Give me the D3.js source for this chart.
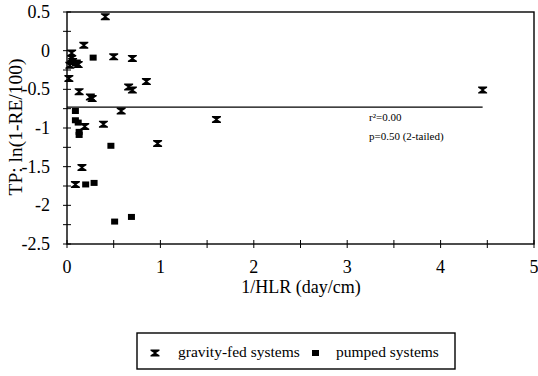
<!DOCTYPE html>
<html><head><meta charset="utf-8">
<script src="https://cdn.jsdelivr.net/npm/d3@7"></script>
<style>body{margin:0;background:#fff}svg{display:block}svg text{font-family:"Liberation Serif","Times New Roman",serif !important}</style>
</head><body>
<svg id="c" width="538" height="376"></svg>
<script>
const gravityX = [0.41,0.18,0.05,0.05,0.06,0.10,0.03,0.12,0.50,0.70,0.02,0.13,0.25,0.27,0.66,0.70,0.85,0.58,0.39,0.19,0.97,0.16,0.09,1.60,4.45];
const gravityY = [0.44,0.07,-0.03,-0.10,-0.14,-0.16,-0.19,-0.18,-0.08,-0.10,-0.36,-0.53,-0.60,-0.62,-0.47,-0.51,-0.40,-0.78,-0.95,-0.98,-1.20,-1.51,-1.73,-0.89,-0.51];
const pumpedX = [0.28,0.09,0.09,0.12,0.13,0.13,0.47,0.20,0.29,0.51,0.69];
const pumpedY = [-0.09,-0.78,-0.90,-0.93,-1.05,-1.09,-1.23,-1.73,-1.71,-2.21,-2.15];
const fitX = [0, 4.45];
const fitY = [-0.73, -0.73];
const xTicks = [0,1,2,3,4,5];
const yTicks = [0.5,0,-0.5,-1,-1.5,-2,-2.5];
const xMinor = [0,0.5,1,1.5,2,2.5,3,3.5,4,4.5,5];
const yMinor = [0.5,0.25,0,-0.25,-0.5,-0.75,-1,-1.25,-1.5,-1.75,-2,-2.25,-2.5];
const stats = ["r\u00B2=0.00", "p=0.50 (2-tailed)"];
const legendLabels = ["gravity-fed systems", "pumped systems"];

const FONT = "Liberation Serif";
const svg = d3.select("#c");
const x = d3.scaleLinear().domain([0,5]).range([67,534]);
const y = d3.scaleLinear().domain([-2.5,0.5]).range([244,12]);

function txt(sel){ return sel.style("font-family", FONT).attr("fill","#000"); }

// frame
svg.append("rect").attr("x",x(0)).attr("y",y(0.5)).attr("width",x(5)-x(0)).attr("height",y(-2.5)-y(0.5))
  .attr("fill","none").attr("stroke","#000").attr("stroke-width",1.4);

// x axis ticks (crossing)
svg.append("g").selectAll("line").data(xMinor).join("line")
  .attr("x1",d=>x(d)).attr("x2",d=>x(d)).attr("y1",y(-2.5)-4).attr("y2",y(-2.5)+4)
  .attr("stroke","#000").attr("stroke-width",1);
txt(svg.append("g").selectAll("text").data(xTicks).join("text")
  .attr("x",d=>x(d)).attr("y",273).attr("text-anchor","middle").attr("font-size",18).text(d=>d));
// y axis ticks
svg.append("g").selectAll("line").data(yMinor).join("line")
  .attr("x1",x(0)-4).attr("x2",x(0)+4).attr("y1",d=>y(d)).attr("y2",d=>y(d))
  .attr("stroke","#000").attr("stroke-width",1);
txt(svg.append("g").selectAll("text").data(yTicks).join("text")
  .attr("x",50).attr("y",d=>y(d)+6).attr("text-anchor","end").attr("font-size",18).text(d=>d));

// axis titles
txt(svg.append("text").attr("x",301).attr("y",293).attr("text-anchor","middle").attr("font-size",18).text("1/HLR (day/cm)"));
txt(svg.append("text").attr("transform","translate(22,127) rotate(-90)").attr("text-anchor","middle").attr("font-size",19.5).text("TP: ln(1-RE/100)"));

// regression line
svg.append("line").attr("x1",x(fitX[0])).attr("x2",x(fitX[1])).attr("y1",y(fitY[0])).attr("y2",y(fitY[1]))
  .attr("stroke","#000").attr("stroke-width",1.4);

// stats text
txt(svg.selectAll("text.st").data(stats).join("text").attr("class","st")
  .attr("x",369).attr("y",(d,i)=>121+i*19).attr("font-size",11).text(d=>d));

const hour = "M-4.5,-3.5L4.5,-3.5L4.5,-2.3L1,0L4.5,2.3L4.5,3.5L-4.5,3.5L-4.5,2.3L-1,0L-4.5,-2.3Z";
const gData = gravityX.map((v,i)=>[v,gravityY[i]]);
const pData = pumpedX.map((v,i)=>[v,pumpedY[i]]);
svg.append("g").selectAll("path").data(gData).join("path")
  .attr("d",hour).attr("transform",d=>`translate(${x(d[0])},${y(d[1])})`).attr("fill","#000");
svg.append("g").selectAll("rect").data(pData).join("rect")
  .attr("x",d=>x(d[0])-3.5).attr("y",d=>y(d[1])-3).attr("width",7).attr("height",6).attr("fill","#000");

// legend
const lg = svg.append("g");
lg.append("rect").attr("x",137).attr("y",333).attr("width",318).attr("height",36).attr("fill","none").attr("stroke","#000").attr("stroke-width",1.4);
lg.append("path").attr("d",hour).attr("transform","translate(155,353)").attr("fill","#000");
txt(lg.append("text").attr("x",178).attr("y",357).attr("font-size",15.5).text(legendLabels[0]));
lg.append("rect").attr("x",312).attr("y",350).attr("width",7).attr("height",6).attr("fill","#000");
txt(lg.append("text").attr("x",336).attr("y",357).attr("font-size",15.5).text(legendLabels[1]));
</script>
</body></html>
